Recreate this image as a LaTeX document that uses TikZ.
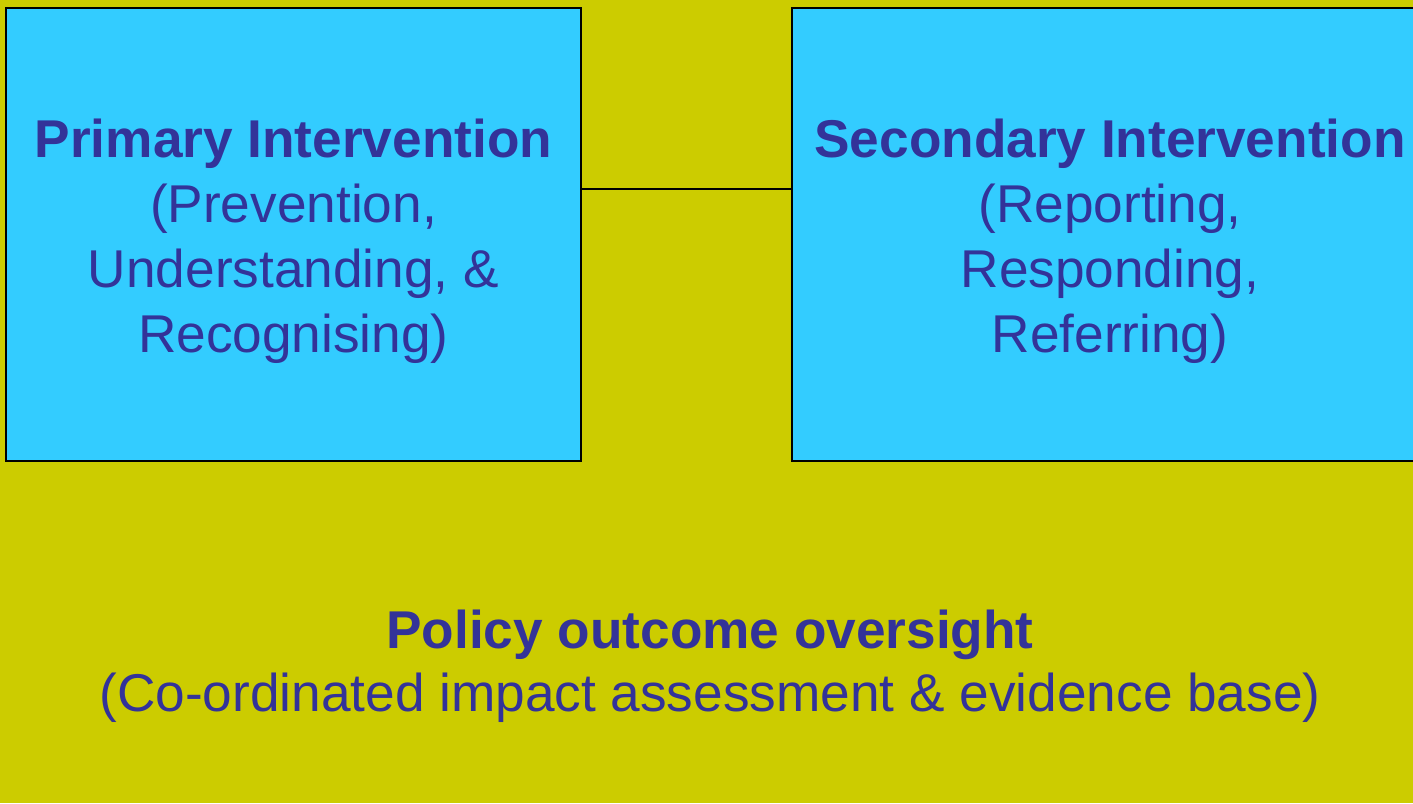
\documentclass[tikz,border=0pt]{standalone}
\usepackage{fontspec}
\setmainfont{Liberation Sans}
\definecolor{bgol}{HTML}{CCCC00}
\definecolor{boxcyan}{HTML}{33CCFF}
\definecolor{txtblue}{HTML}{333399}
\tikzset{
  box/.style={draw=black, line width=1pt, fill=boxcyan, inner sep=0pt},
  lbl/.style={align=center, text=txtblue, inner sep=0pt, font=\fontsize{26.6pt}{32.5pt}\selectfont},
  link/.style={draw=black, line width=1pt}
}
\begin{document}
\begin{tikzpicture}[x=0.5pt,y=-0.5pt]
\useasboundingbox (0,0) rectangle (1413,803);
\fill[bgol] (0,0) rectangle (1413,803);
\clip (0,0) rectangle (1413,803);
\node[box, minimum width=287.5pt, minimum height=226.5pt] (L) at (293.5,234.5) {};
\node[box, minimum width=316.5pt, minimum height=226.5pt] (R) at (1108.5,234.5) {};
\node[lbl] (Lt) at (293.5,241.5)
  {\textbf{Primary Intervention}\\(Prevention,\\Understanding, \&\\Recognising)};
\node[lbl] (Rt) at (1110,241.5)
  {\textbf{Secondary Intervention}\\(Reporting,\\Responding,\\Referring)};
\coordinate (c) at (0,189);
\draw[link] (L.east |- c) -- (R.west |- c);
\node[lbl, font=\fontsize{26.6pt}{31.6pt}\selectfont] (P) at (710,666)
  {\textbf{Policy outcome oversight}\\(Co-ordinated impact assessment \& evidence base)};
\end{tikzpicture}
\end{document}
